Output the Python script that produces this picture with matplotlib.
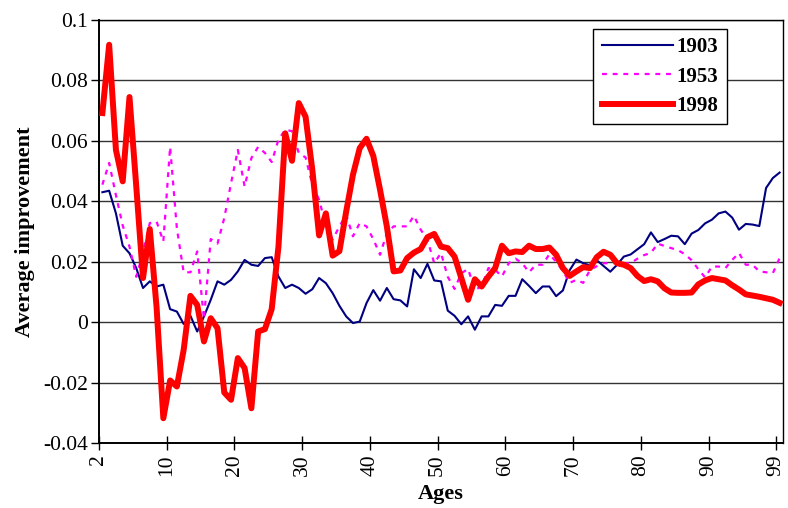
import matplotlib
matplotlib.use("Agg")
import matplotlib.pyplot as plt
import numpy as np

# ---- data, ages 2..99 plotted as 101 categories ----
s1903 = [0.043, 0.0435, 0.036, 0.0253, 0.0228, 0.0179, 0.0113, 0.0135, 0.0118, 0.0124,
         0.0043, 0.0035, -0.0006, 0.0021, -0.0031, 0.0019, 0.0074, 0.0135, 0.0124, 0.014,
         0.0168, 0.0206, 0.019, 0.0186, 0.0212, 0.0215, 0.0151, 0.0113, 0.0124, 0.0113,
         0.0094, 0.0109, 0.0146, 0.0129, 0.0096, 0.0054, 0.0019, -0.0003, 0.0002, 0.0063,
         0.0106, 0.0071, 0.0113, 0.0076, 0.0072, 0.0052, 0.0175, 0.0146, 0.0193, 0.0138,
         0.0135, 0.0038, 0.0021, -0.0007, 0.0019, -0.0025, 0.0019, 0.0019, 0.0057, 0.0054,
         0.0087, 0.0087, 0.0142, 0.012, 0.0096, 0.0118, 0.0118, 0.0086, 0.0105, 0.0172,
         0.0207, 0.0195, 0.0188, 0.0205, 0.0186, 0.0167, 0.019, 0.0217, 0.0224, 0.0241,
         0.0258, 0.0297, 0.0265, 0.0275, 0.0286, 0.0284, 0.0258, 0.0293, 0.0305, 0.0327,
         0.0339, 0.036, 0.0366, 0.0346, 0.0306, 0.0325, 0.0323, 0.0318, 0.0444, 0.0477,
         0.0495]

s1953 = [0.0455, 0.0527, 0.042, 0.032, 0.025, 0.015, 0.023, 0.0328, 0.0333, 0.0267,
         0.058, 0.031, 0.0165, 0.0165, 0.0234, 0.001, 0.0275, 0.026, 0.0345, 0.046,
         0.057, 0.0449, 0.0543, 0.058, 0.056, 0.053, 0.0604, 0.0637, 0.0632, 0.056,
         0.0545, 0.0455, 0.0405, 0.032, 0.0273, 0.0317, 0.0355, 0.0284, 0.0328, 0.0317,
         0.0275, 0.0223, 0.0295, 0.0317, 0.0317, 0.0317, 0.0352, 0.0306, 0.0273, 0.0195,
         0.0229, 0.015, 0.011, 0.0162, 0.0176, 0.0107, 0.0118, 0.0179, 0.0173, 0.0151,
         0.0195, 0.021, 0.0195, 0.0165, 0.019, 0.019, 0.0225, 0.02, 0.017, 0.013,
         0.014, 0.013, 0.0173, 0.0185, 0.0195, 0.0195, 0.0195, 0.0195, 0.0195, 0.021,
         0.0222, 0.0229, 0.026, 0.0252, 0.0245, 0.0238, 0.0225, 0.0205, 0.0175, 0.0148,
         0.0184, 0.0184, 0.0179, 0.0206, 0.0229, 0.019, 0.019, 0.0168, 0.0165, 0.0162,
         0.0212]

s1998 = [0.0692, 0.0918, 0.057, 0.0466, 0.0745, 0.045, 0.0146, 0.0308, 0.005, -0.0318,
         -0.0193, -0.0213, -0.0092, 0.0087, 0.0057, -0.0064, 0.0013, -0.002, -0.0233, -0.0257,
         -0.0119, -0.0152, -0.0285, -0.0031, -0.0023, 0.0043, 0.025, 0.0625, 0.0534, 0.0725,
         0.068, 0.0504, 0.0287, 0.036, 0.022, 0.0235, 0.0366, 0.0488, 0.0576, 0.0607,
         0.055, 0.0438, 0.0317, 0.0168, 0.0171, 0.0212, 0.023, 0.0242, 0.0281, 0.0292,
         0.025, 0.0245, 0.0217, 0.0146, 0.0074, 0.0142, 0.0118, 0.0151, 0.0179, 0.0253,
         0.0228, 0.0234, 0.0232, 0.0253, 0.0242, 0.0242, 0.0247, 0.0223, 0.0179, 0.0153,
         0.0168, 0.0182, 0.0179, 0.0215, 0.0233, 0.0223, 0.0195, 0.019, 0.0179, 0.0153,
         0.0136, 0.0142, 0.0135, 0.0112, 0.0098, 0.0097, 0.0097, 0.0098, 0.0125, 0.0138,
         0.0146, 0.0142, 0.0138, 0.0122, 0.0108, 0.0092, 0.0088, 0.0084, 0.0079, 0.0074,
         0.0064]

tick_labels = ["2", "10", "20", "30", "40", "50", "60", "70", "80", "90", "99"]
y_ticks = [-0.04, -0.02, 0, 0.02, 0.04, 0.06, 0.08, 0.1]
y_tick_labels = ["-0.04", "-0.02", "0", "0.02", "0.04", "0.06", "0.08", "0.1"]

plt.rcParams['font.family'] = ['Liberation Serif', 'DejaVu Serif']

fig = plt.figure(figsize=(7.88, 5.08), dpi=100)
ax = fig.add_axes([99/788, 1-443/508, (783-99)/788, (443-20)/508])

n = len(s1903)
x = np.arange(n) + 0.5

ax.plot(x, s1903, color='#000080', lw=1.5, label='1903', zorder=3)
ax.plot(x, s1953, color='#FF00FF', lw=1.6, dashes=(2.2, 2.6), label='1953', zorder=3)
ax.plot(x, s1998, color='#FF0000', lw=4.3, label='1998', zorder=4)

ax.set_xlim(0, n)
ax.set_ylim(-0.04, 0.1)
ax.set_yticks(y_ticks)
ax.set_yticklabels(y_tick_labels)
ax.set_xticks(np.arange(0, n, 10))
ax.set_xticklabels(tick_labels, rotation=90)

ax.yaxis.grid(True, color='#333333', lw=1.0)
ax.set_axisbelow(True)
for sp in ax.spines.values():
    sp.set_color('black')
    sp.set_linewidth(1.0)
ax.spines['left'].set_linewidth(1.4)
ax.spines['bottom'].set_linewidth(1.4)

ax.tick_params(axis='y', direction='out', length=6, width=1, labelsize=15.5, pad=2)
ax.tick_params(axis='x', direction='inout', length=10, width=1, labelsize=15.5, pad=3)

ax.set_ylabel('Average improvement', fontsize=16, fontweight='bold', labelpad=6)
ax.set_xlabel('Ages', fontsize=16, fontweight='bold', labelpad=6)

leg = ax.legend(loc='upper right', bbox_to_anchor=(727/788, 1-29/508),
                bbox_transform=fig.transFigure, frameon=True, fancybox=False,
                edgecolor='black', framealpha=1, handlelength=3.4,
                prop={'weight': 'bold', 'size': 15}, borderpad=0.4,
                labelspacing=0.45, handletextpad=0.2, borderaxespad=0)
leg.get_frame().set_linewidth(1.0)
leg.set_zorder(10)

fig.savefig('out.png', dpi=100)
